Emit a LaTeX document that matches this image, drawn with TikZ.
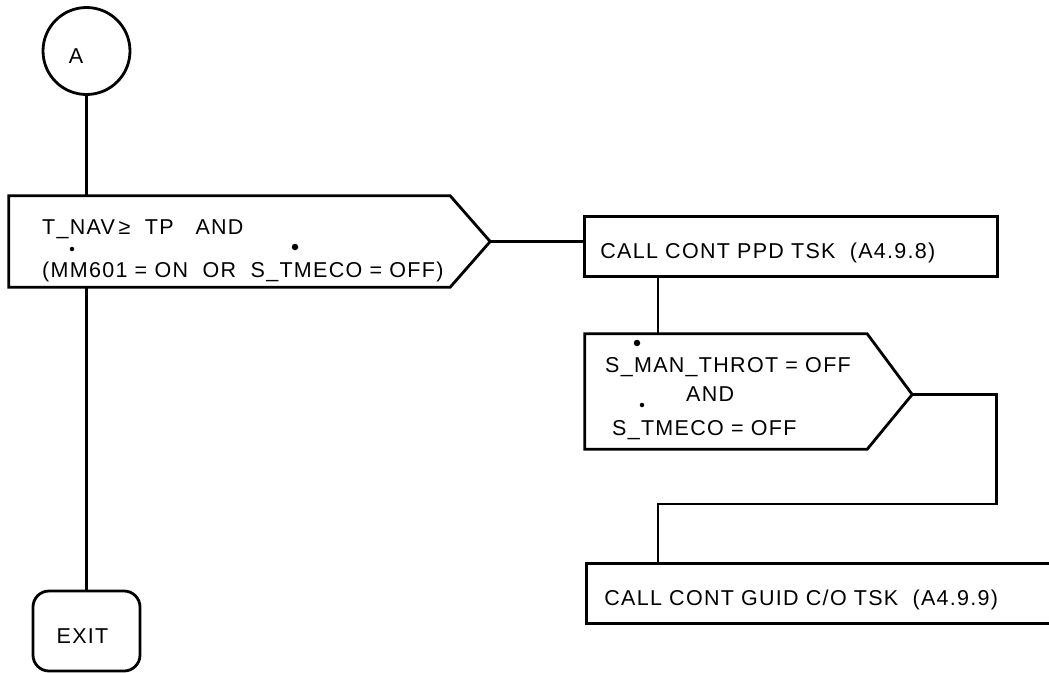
\documentclass[tikz,border=0pt]{standalone}
\usepackage{fontspec}
\setmainfont{Liberation Sans}[LetterSpace=6]
\usetikzlibrary{calc}

\tikzset{
  flow/.style={line width=2.8pt},
  lbl/.style={text height=25pt, text depth=0pt, inner sep=0pt},
  procbox/.style={draw, flow, lbl, anchor=north west, minimum height=60pt, inner xsep=16pt, align=left},
  cond/.style={anchor=base west, inner sep=0pt},
  dot/.style={circle, fill, inner sep=0pt},
}

\begin{document}
\begin{tikzpicture}[x=1pt, y=-1pt, font=\fontsize{21.5}{25}\selectfont]
  \useasboundingbox (0,0) rectangle (1049,672);
  \clip (0,0) rectangle (1049,672);

  % connector and exit
  \node (start) [draw, flow, circle, minimum size=87pt, inner sep=0pt] at (86.5,51) {};
  \node (startlbl) [lbl] at (76,51) {A};
  \node (exit) [draw, flow, lbl, rounded corners=16pt, minimum width=107pt, minimum height=80pt] at (86.5,631) {};
  \node (exitlbl) [lbl] at (82.5,631) {EXIT};

  % first test
  \node (d1) [minimum width=441pt, minimum height=91pt, inner sep=0pt] at (229.5,241.5) {};
  \draw[flow] (d1.north west) -- (d1.north east) -- ($(d1.east)+(40,0)$) coordinate (d1tip) -- (d1.south east) -- (d1.south west) -- cycle;
  \node (d1a) [cond] at (42,234) {T\_NAV\,≥\ \ TP\ \ \ AND};
  \node (d1b) [cond] at (42,277) {(MM601 = ON\ \ OR\ \ S\_TMECO = OFF)};
  \node (d1dot1) [dot, minimum size=4.5pt] at (72,249) {};
  \node (d1dot2) [dot, minimum size=6.5pt] at (295,247) {};

  % called tasks and second test
  \node (ppd) [procbox, text width=381pt] at (583,215) {CALL CONT PPD TSK\ \ (A4.9.8)};
  \node (d2) [minimum width=282pt, minimum height=115pt, inner sep=0pt] at (726,391.5) {};
  \draw[flow] (d2.north west) -- (d2.north east) -- ($(d2.east)+(45,3)$) coordinate (d2tip) -- (d2.south east) -- (d2.south west) -- cycle;
  \node (d2a) [cond] at (605,372) {S\_MAN\_THROT = OFF};
  \node (d2b) [cond] at (686,401) {AND};
  \node (d2c) [cond] at (612,435) {S\_TMECO = OFF};
  \node (d2dot1) [dot, minimum size=6.5pt] at (637,343) {};
  \node (d2dot2) [dot, minimum size=4.5pt] at (642,405) {};
  \node (guid) [procbox, inner xsep=18pt, text width=444pt] at (585,562) {CALL CONT GUID C/O TSK\ \ (A4.9.9)};

  \coordinate (loop) at (658,504);

  \draw[flow] (start) -- (start |- d1.north);
  \draw[flow] (start |- d1.south) -- (exit);
  \draw[flow] (d1tip) -- (d1tip -| ppd.west);
  \draw[flow] (loop |- ppd.south) -- (loop |- d2.north);
  \draw[flow] (d2tip) -- ++(84,0) |- (loop) -- (loop |- guid.north);
\end{tikzpicture}
\end{document}
